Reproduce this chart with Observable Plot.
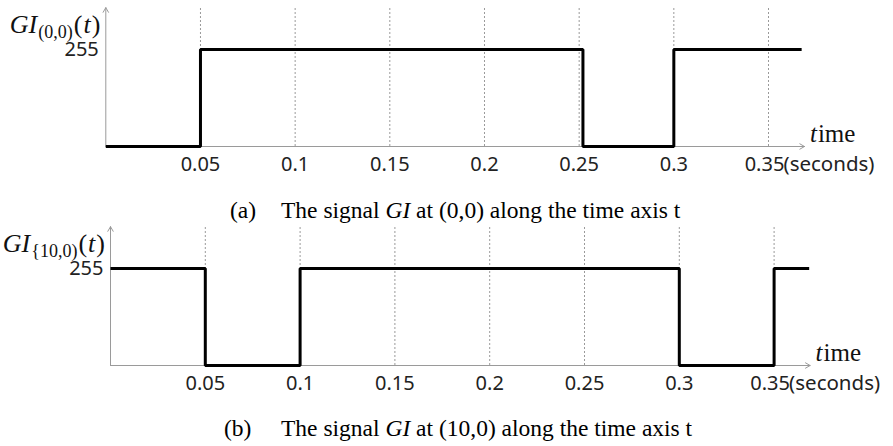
<!DOCTYPE html>
<html>
<head>
<meta charset="utf-8">
<script src="https://cdn.jsdelivr.net/npm/d3@7"></script>
<script src="https://cdn.jsdelivr.net/npm/@observablehq/plot@0.6"></script>
<style>
  html, body { margin: 0; padding: 0; background: white; }
  #root { position: relative; width: 893px; height: 446px; overflow: hidden; }
  .panel { position: absolute; left: 0; }
  .cap { position: absolute; font-family: "Liberation Serif", "Times New Roman", serif; font-size: 23.5px; line-height: 23.5px; color: #000; white-space: nowrap; }
</style>
</head>
<body>
<div id="root"></div>
<script>
// ---- data ----
const tickValues = [0.05, 0.1, 0.15, 0.2, 0.25, 0.3, 0.35];
const tickLabels = ["0.05", "0.1", "0.15", "0.2", "0.25", "0.3", "0.35"];
const levelValue = 255;
const levelLabel = "255";
const unitLabel = "(seconds)";

// panel (a): signal GI at (0,0)
const timeA = [0, 0.05, 0.252, 0.3, 0.3675];
const signalA = [0, 255, 0, 255, 255];
// panel (b): signal GI at (10,0)
const timeB = [0, 0.05, 0.1, 0.3, 0.35, 0.3685];
const signalB = [255, 0, 255, 0, 255, 255];

const xAxisEnd = 0.369;   // extent of the time-axis arrow
const yAxisTop = 365;     // extent of the value-axis arrow

const captionA = ["(a)", 'The signal <i>GI</i> at (0,0) along the time axis t'];
const captionB = ["(b)", 'The signal <i>GI</i> at (10,0) along the time axis t'];

const tickFont = "'Noto Sans', 'Open Sans', sans-serif";
const mathFont = "'Liberation Serif', 'Times New Roman', serif";

function panel(times, values, xRange) {
  const data = times.map((t, i) => ({t, v: values[i]}));
  const lastTick = tickValues[tickValues.length - 1];
  return Plot.plot({
    width: 893,
    height: 185,
    style: {background: "transparent", overflow: "visible"},
    x: {domain: [0, 0.35], range: xRange, axis: null},
    y: {domain: [0, 255], range: [146, 49], axis: null},
    marks: [
      Plot.ruleX(tickValues, {x: d => d, y1: 0, y2: yAxisTop, stroke: "#9a9a9a", strokeWidth: 1, strokeDasharray: "2,2"}),
      Plot.arrow([{}], {x1: 0, y1: 0, x2: xAxisEnd, y2: 0, stroke: "#9a9a9a", strokeWidth: 1, headLength: 8, headAngle: 60}),
      Plot.arrow([{}], {x1: 0, y1: 0, x2: 0, y2: yAxisTop, stroke: "#9a9a9a", strokeWidth: 1, headLength: 8, headAngle: 60}),
      Plot.line(data, {x: "t", y: "v", curve: "step-after", stroke: "black", strokeWidth: 3, strokeLinejoin: "miter", strokeLinecap: "butt"}),
      Plot.text(tickValues.slice(0, -1), {x: d => d, y: 0, text: (d, i) => tickLabels[i], dy: 18, fontSize: 20, fontFamily: tickFont, fill: "#222"}),
      Plot.text([lastTick], {x: d => d, y: 0, text: () => tickLabels[tickLabels.length - 1], dy: 18, dx: -4, fontSize: 20, fontFamily: tickFont, fill: "#222"}),
      Plot.text([unitLabel], {x: lastTick, y: 0, text: d => d, dy: 18, dx: 15, textAnchor: "start", fontSize: 20.5, fontFamily: tickFont, fill: "#222"}),
      Plot.text([levelValue], {x: 0, y: d => d, text: () => levelLabel, dx: -7, textAnchor: "end", fontSize: 20, fontFamily: tickFont, fill: "#222"})
    ]
  });
}

// place a row of separately styled text pieces, measured so they do not overlap
function addPieces(svg, pieces, x, y, anchor) {
  const nodes = pieces.map(p => svg.append("text")
    .attr("text-anchor", "start")
    .attr("font-family", mathFont)
    .attr("font-size", p.size)
    .attr("font-style", p.italic ? "italic" : "normal")
    .attr("fill", "#111")
    .attr("y", y + (p.dy || 0))
    .text(p.text));
  const widths = nodes.map(n => n.node().getComputedTextLength());
  const gaps = pieces.map(p => p.gap || 0);
  const total = widths.reduce((a, b) => a + b, 0) + gaps.reduce((a, b) => a + b, 0);
  let cx = anchor === "end" ? x - total : x;
  nodes.forEach((n, i) => { cx += gaps[i]; n.attr("x", cx); cx += widths[i]; });
}

function decorate(plot, subText) {
  const xs = plot.scale("x"), ys = plot.scale("y");
  const svg = d3.select(plot);
  addPieces(svg, [
    {text: "t", italic: true, size: 25},
    {text: "ime", size: 25, gap: 1}
  ], xs.apply(xAxisEnd) + 6, ys.apply(0) - 4, "start");
  addPieces(svg, [
    {text: "GI", italic: true, size: 26},
    {text: subText, size: 18, dy: 5, gap: 1},
    {text: "(", size: 26, gap: 1},
    {text: "t", italic: true, size: 26, gap: 1},
    {text: ")", size: 26, gap: 1}
  ], xs.apply(0) - 5, ys.apply(yAxisTop) + 26, "end");
}

const root = document.getElementById("root");

const pA = panel(timeA, signalA, [105.3, 768]);
pA.classList.add("panel");
pA.style.top = "0px";
pA.style.position = "absolute";
root.appendChild(pA);
decorate(pA, "(0,0)");

const pB = panel(timeB, signalB, [110, 773.6]);
pB.classList.add("panel");
pB.style.top = "219px";
pB.style.position = "absolute";
root.appendChild(pB);
decorate(pB, "{10,0)");

function caption(parts, top, labelLeft) {
  const a = document.createElement("div");
  a.className = "cap";
  a.style.top = top + "px";
  a.style.left = labelLeft + "px";
  a.textContent = parts[0];
  root.appendChild(a);
  const b = document.createElement("div");
  b.className = "cap";
  b.style.top = top + "px";
  b.style.left = "281px";
  b.innerHTML = parts[1];
  root.appendChild(b);
}
caption(captionA, 199, 230);
caption(captionB, 417, 224);
</script>
</body>
</html>
